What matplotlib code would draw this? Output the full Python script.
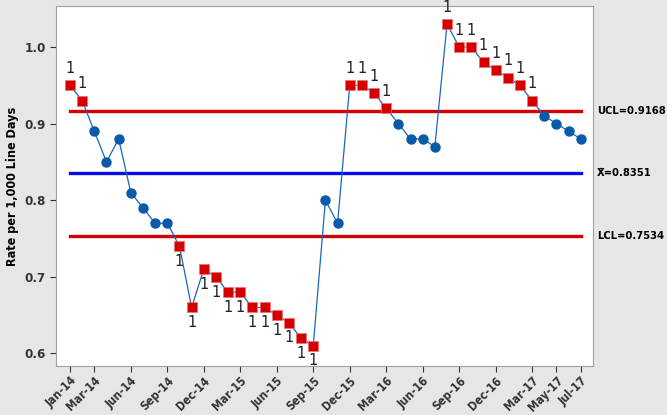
import numpy as np
import matplotlib
matplotlib.use("Agg")
import matplotlib.pyplot as plt

plt.rcParams['font.family'] = ['DejaVu Sans']
plt.rcParams['font.stretch'] = 'condensed'

# monthly rates, Jan-14 .. Jul-17
months = ['Jan-14', 'Feb-14', 'Mar-14', 'Apr-14', 'May-14', 'Jun-14', 'Jul-14', 'Aug-14', 'Sep-14',
          'Oct-14', 'Nov-14', 'Dec-14', 'Jan-15', 'Feb-15', 'Mar-15', 'Apr-15', 'May-15', 'Jun-15',
          'Jul-15', 'Aug-15', 'Sep-15', 'Oct-15', 'Nov-15', 'Dec-15', 'Jan-16', 'Feb-16', 'Mar-16',
          'Apr-16', 'May-16', 'Jun-16', 'Jul-16', 'Aug-16', 'Sep-16', 'Oct-16', 'Nov-16', 'Dec-16',
          'Jan-17', 'Feb-17', 'Mar-17', 'Apr-17', 'May-17', 'Jun-17', 'Jul-17']
rates = [0.95, 0.93, 0.89, 0.85, 0.88, 0.81, 0.79, 0.77, 0.77,
         0.74, 0.66, 0.71, 0.70, 0.68, 0.68, 0.66, 0.66, 0.65,
         0.64, 0.62, 0.61, 0.80, 0.77, 0.95, 0.95, 0.94, 0.92,
         0.90, 0.88, 0.88, 0.87, 1.03, 1.00, 1.00, 0.98, 0.97,
         0.96, 0.95, 0.93, 0.91, 0.90, 0.89, 0.88]
# points flagged by test 1 (outside limits)
flagged = [0, 1, 9, 10, 11, 12, 13, 14, 15, 16, 17, 18, 19, 20,
           23, 24, 25, 26, 31, 32, 33, 34, 35, 36, 37, 38]
shown_ticks = ['Jan-14', 'Mar-14', 'Jun-14', 'Sep-14', 'Dec-14', 'Mar-15', 'Jun-15', 'Sep-15',
               'Dec-15', 'Mar-16', 'Jun-16', 'Sep-16', 'Dec-16', 'Mar-17', 'May-17', 'Jul-17']
ucl = 0.9168
mean = 0.8351
lcl = 0.7534

x = np.arange(len(rates))
y = np.array(rates)
isflag = np.isin(x, flagged)

fig = plt.figure(figsize=(6.67, 4.15), dpi=100, facecolor='#e6e6e6')
ax = fig.add_axes([0.084, 0.118, 0.805, 0.8675])
ax.set_facecolor('white')

ax.plot([x[0], x[-1]], [ucl, ucl], color='#d40000', lw=2.4, zorder=1)
ax.plot([x[0], x[-1]], [lcl, lcl], color='#d40000', lw=2.4, zorder=1)
ax.plot([x[0], x[-1]], [mean, mean], color='#0a0ae6', lw=2.4, zorder=1)

ax.plot(x, y, color='#1a66c0', lw=0.9, zorder=2)
ax.plot(x[~isflag], y[~isflag], 'o', color='#0a5aaa', ms=6.5, zorder=3)
ax.plot(x[isflag], y[isflag], 's', color='#d40000', mec='#f07070', mew=0.5, ms=6.5, zorder=3)

for i in flagged:
    if rates[i] > ucl:
        ax.text(x[i], rates[i] + 0.012, '1', ha='center', va='bottom', fontsize=10.5,
                fontstretch='normal', color='#222222')
    else:
        ax.text(x[i], rates[i] - 0.010, '1', ha='center', va='top', fontsize=10.5,
                fontstretch='normal', color='#222222')

ax.set_xlim(-1.15, 43.0)
ax.set_ylim(0.5836, 1.0535)
ax.set_yticks([0.6, 0.7, 0.8, 0.9, 1.0])
ax.set_yticklabels(['0.6', '0.7', '0.8', '0.9', '1.0'], fontweight='bold', fontsize=9.5)
ax.set_xticks([months.index(m) for m in shown_ticks])
ax.set_xticklabels(shown_ticks, rotation=45, ha='right', rotation_mode='anchor',
                   fontweight='bold', fontsize=8.5)
ax.tick_params(colors='#333333', length=4)
ax.tick_params(axis='x', pad=2)
ax.set_ylabel('Rate per 1,000 Line Days', fontweight='bold', fontsize=9)
for s in ax.spines.values():
    s.set_color('#a0a0a0')

for val, lab in [(ucl, 'UCL=0.9168'), (mean, 'X\u0304=0.8351'), (lcl, 'LCL=0.7534')]:
    ax.text(1.008, val, lab, transform=ax.get_yaxis_transform(), va='center',
            fontweight='bold', fontsize=8)

fig.savefig('out.png', dpi=100, facecolor=fig.get_facecolor())
